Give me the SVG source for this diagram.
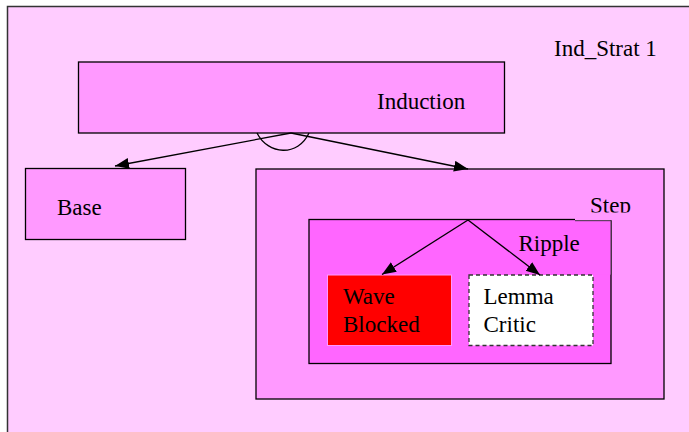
<svg xmlns="http://www.w3.org/2000/svg" width="689" height="432" viewBox="0 0 689 432">
  <style>
    .lbl { font-family: "Liberation Serif", "Times New Roman", serif; font-size: 23px; fill: #000; }
    .box { fill: #ff99ff; stroke: #000; stroke-width: 1.3; }
    .edge { fill: none; stroke: #000; stroke-width: 1.3; }
  </style>
  <defs>
    <marker id="arrow" markerUnits="userSpaceOnUse" markerWidth="15" markerHeight="12" refX="14" refY="5.5" orient="auto">
      <path d="M0,0 L14,5.5 L0,11 z" fill="#000"/>
    </marker>
    <clipPath id="stepClip">
      <rect x="560" y="180" width="100" height="32.5"/>
    </clipPath>
  </defs>

  <!-- strategy frame -->
  <g id="ind-strat">
    <rect x="7.5" y="6.5" width="700" height="450" fill="#ffccff" stroke="#333" stroke-width="1.5"/>
    <text class="lbl" x="554" y="56">Ind_Strat 1</text>
  </g>

  <g id="induction">
    <rect class="box" x="78.5" y="62" width="426" height="71"/>
    <text class="lbl" x="377" y="109">Induction</text>
  </g>

  <g id="base">
    <rect class="box" x="25.5" y="168.5" width="160" height="71"/>
    <text class="lbl" x="57" y="215">Base</text>
  </g>

  <g id="step">
    <rect class="box" x="256" y="169" width="408" height="230"/>
    <text class="lbl" x="590" y="213" clip-path="url(#stepClip)">Step</text>
  </g>

  <g id="ripple">
    <rect x="309" y="219.5" width="302" height="144" fill="#ff66ff" stroke="#000" stroke-width="1.3"/>
    <!-- label box sitting on the top-right corner -->
    <rect x="575" y="218" width="37" height="2.2" fill="#ff99ff"/>
    <rect x="575" y="220.7" width="36" height="54" fill="#ff66ff"/>
    <path d="M575,220.7 H611 V275" fill="none" stroke="#333" stroke-width="0.9"/>
    <text class="lbl" x="518.5" y="250.5">Ripple</text>
  </g>

  <g id="wave-blocked">
    <rect x="327.5" y="275" width="124" height="70.5" fill="#ff0000" stroke="#ff99ff" stroke-width="1"/>
    <text class="lbl" x="343" y="304">Wave</text>
    <text class="lbl" x="343" y="332">Blocked</text>
  </g>

  <g id="lemma-critic">
    <rect x="469" y="275" width="124" height="70.5" fill="#fff" stroke="#333" stroke-width="1.3" stroke-dasharray="4,3"/>
    <text class="lbl" x="483.5" y="304">Lemma</text>
    <text class="lbl" x="483.5" y="332">Critic</text>
  </g>

  <!-- connectors -->
  <g id="connectors">
    <line class="edge" x1="291" y1="133" x2="115" y2="166" marker-end="url(#arrow)"/>
    <line class="edge" x1="291" y1="133" x2="468" y2="169" marker-end="url(#arrow)"/>
    <path class="edge" d="M257,133 C268,155 298,157 309,133"/>
    <line class="edge" x1="468" y1="220" x2="382" y2="274.5" marker-end="url(#arrow)"/>
    <line class="edge" x1="468" y1="220" x2="540" y2="275" marker-end="url(#arrow)"/>
  </g>
</svg>
